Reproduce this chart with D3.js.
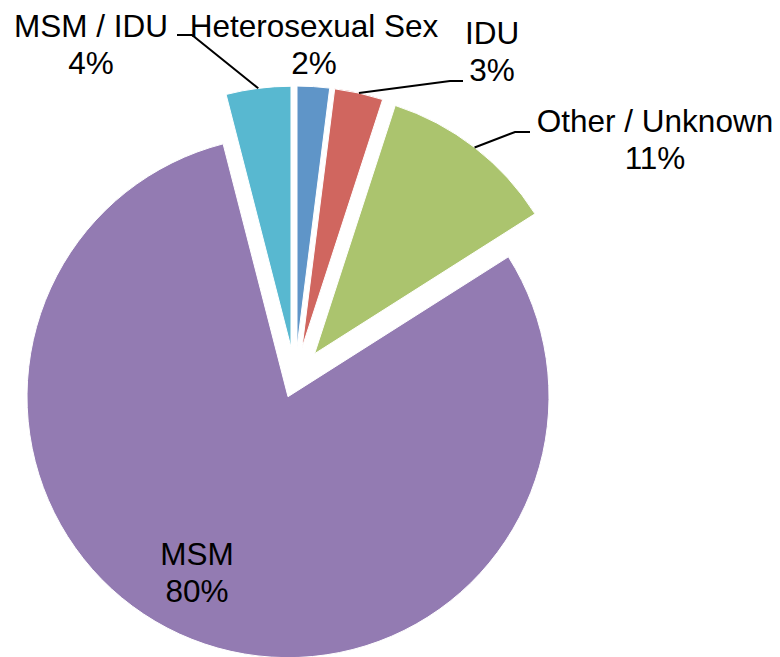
<!DOCTYPE html>
<html lang="en">
  <head>
    <meta charset="utf-8">
    <title>HIV diagnoses by exposure category</title>
    <script src="https://d3js.org/d3.v7.min.js"></script>
    <style>
      body { margin: 0; background: #fff; }
      text { font-family: "Liberation Sans", Arial, sans-serif; font-size: 31.5px; fill: #000; }
    </style>
  </head>
  <body>
  <div id="chart"></div>

<script>

// data, clockwise from 12 o'clock
var categories = ["Heterosexual Sex", "IDU", "Other / Unknown", "MSM", "MSM / IDU"];
var percents = [2, 3, 11, 80, 4];
var percentLabels = ["2%", "3%", "11%", "80%", "4%"];

// styling
var colors = ["#5f95c8", "#d0665f", "#abc46e", "#937bb2", "#58b8d0"];
var explode = [32, 32, 32, 19, 32];

// label centres (first line) and leader elbows, null = no leader
var labelPos = [[314, 26], [492, 33], [655, 121], [197, 554], [91, 26]];
var leaderElbow = [null, [[450, 81], [463, 81]], [[515, 132], [530, 132]], null, [[192, 35], [177, 35]]];

var width = 780,
    height = 657,
    radius = 261,
    cx = 295,
    cy = 379;

var svg = d3.select("#chart")
  .append("svg")
    .attr("width", width)
    .attr("height", height);

var pie = d3.pie()
    .sort(null)
    .value(function(d) { return d; });

var arc = d3.arc()
    .innerRadius(0)
    .outerRadius(radius);

var arcs = pie(percents);

// offset of each slice along its middle angle
var offset = function(d, i) {
  var a = (d.startAngle + d.endAngle) / 2;
  return [cx + explode[i] * Math.sin(a), cy - explode[i] * Math.cos(a)];
}

svg.append("g")
  .selectAll("path")
  .data(arcs)
  .enter()
  .append("path")
    .attr("transform", function(d, i) { var o = offset(d, i); return "translate(" + o[0] + "," + o[1] + ")"; })
    .attr("d", arc)
    .style("fill", function(d, i) { return colors[i]; })
    .style("stroke", "#fff")
    .style("stroke-width", 1);

// leader lines from the middle of the outer edge
svg.append("g")
  .selectAll("polyline")
  .data(arcs.filter(function(d, i) { return leaderElbow[i]; }))
  .enter()
  .append("polyline")
    .attr("points", function(d) {
      var i = d.index;
      var o = offset(d, i);
      var a = (d.startAngle + d.endAngle) / 2;
      var start = [o[0] + radius * Math.sin(a), o[1] - radius * Math.cos(a)];
      return [start].concat(leaderElbow[i]).map(function(p) { return p.join(","); }).join(" ");
    })
    .style("fill", "none")
    .style("stroke", "#000")
    .style("stroke-width", 2);

var labels = svg.append("g")
  .selectAll("text")
  .data(arcs)
  .enter()
  .append("text")
    .attr("text-anchor", "middle")
    .attr("x", function(d, i) { return labelPos[i][0]; })
    .attr("y", function(d, i) { return labelPos[i][1] + 11; });

labels.append("tspan")
    .attr("x", function(d, i) { return labelPos[i][0]; })
    .text(function(d, i) { return categories[i]; });

labels.append("tspan")
    .attr("x", function(d, i) { return labelPos[i][0]; })
    .attr("dy", 37)
    .text(function(d, i) { return percentLabels[i]; });

</script>
  </body>
</html>
